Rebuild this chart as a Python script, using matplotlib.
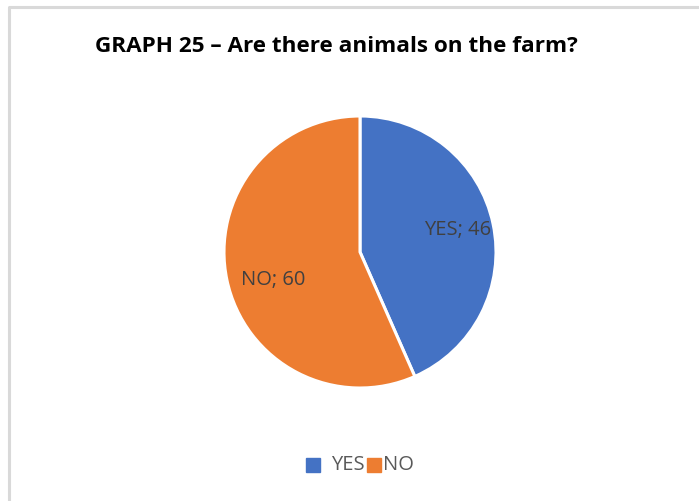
import numpy as np
import matplotlib.pyplot as plt
from matplotlib.lines import Line2D
from matplotlib.patches import Rectangle

categories = ["YES", "NO"]
values = [46, 60]
colors = ["#4472c4", "#ed7d31"]
title = "GRAPH 25 \u2013 Are there animals on the farm?"

W, H = 699, 501
fig = plt.figure(figsize=(W / 100, H / 100), dpi=100)
fig.patch.set_facecolor("white")

# light gray frame (only top and left visible, cropped chart)
fig.add_artist(Line2D([9 / W, 9 / W, 1.0], [0.0, 1 - 6.5 / H, 1 - 6.5 / H],
                      transform=fig.transFigure, color="#d9d9d9", lw=2.2))

# pie placed at center (360, 252), radius ~136 px
cx, cy, r = 360, 252, 136
pad = 1.04
ax = fig.add_axes([(cx - r * pad) / W, (H - cy - r * pad) / H,
                   2 * r * pad / W, 2 * r * pad / H])

labels = [f"{c}; {v}" for c, v in zip(categories, values)]
wedges, texts = ax.pie(values, colors=colors, startangle=90, counterclock=False,
                       labels=labels, labeldistance=0.7,
                       wedgeprops=dict(edgecolor="white", linewidth=2.2),
                       textprops=dict(fontsize=14.5, color="#404040",
                                      family="Open Sans"))
# Excel-ish label placement: a bit further out for YES, lower for NO
for t, dist, rot in zip(texts, [0.74, 0.67], [1, 6]):
    x, y = t.get_position()
    a = np.arctan2(y, x) + np.deg2rad(rot)
    t.set_position((dist * np.cos(a), dist * np.sin(a)))
    t.set_ha("center")
    t.set_va("center")
# pie() sets its own limits, override after
ax.set_xlim(-pad, pad)
ax.set_ylim(-pad, pad)
ax.set_aspect("equal")
ax.axis("off")

fig.text(95 / W, 1 - 47 / H, title, fontsize=16.2, fontweight="bold",
         family="Open Sans", ha="left", va="center", color="black")

# legend
ly = 1 - 465 / H
s = 14
fig.add_artist(Rectangle((306 / W, ly - s / 2 / H), s / W, s / H,
                         transform=fig.transFigure, color=colors[0]))
fig.text(331 / W, ly, categories[0], fontsize=14.5, color="#595959",
         family="Open Sans", ha="left", va="center")
fig.add_artist(Rectangle((367 / W, ly - s / 2 / H), s / W, s / H,
                         transform=fig.transFigure, color=colors[1]))
fig.text(383 / W, ly, categories[1], fontsize=14.5, color="#595959",
         family="Open Sans", ha="left", va="center")

fig.savefig("out.png", dpi=100)
